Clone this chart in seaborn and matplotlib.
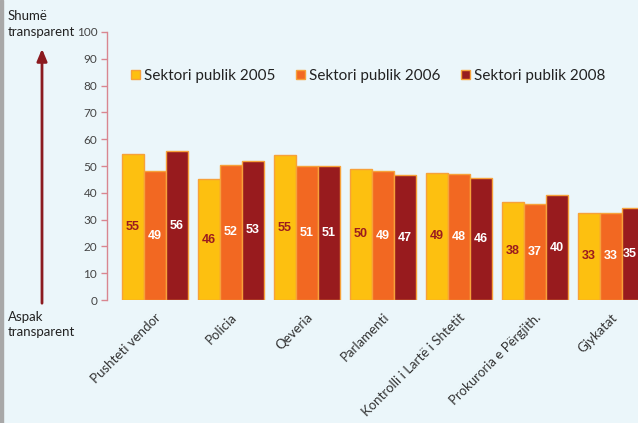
import matplotlib

matplotlib.use("Agg")
import matplotlib.pyplot as plt
import pandas as pd
import seaborn as sns
from matplotlib.patches import Rectangle

institutions = [
    "Pushteti vendor",
    "Policia",
    "Qeveria",
    "Parlamenti",
    "Kontrolli i Lartë i Shtetit",
    "Prokuroria e Përgjith.",
    "Gjykatat",
]
series = ["Sektori publik 2005", "Sektori publik 2006", "Sektori publik 2008"]

# bar heights as drawn, and the printed labels (they differ slightly in the original)
heights_2005 = [54.5, 45, 54, 49, 47.5, 36.5, 32.5]
heights_2006 = [48, 50.5, 50, 48, 47, 36, 32.5]
heights_2008 = [55.5, 52, 50, 46.5, 45.5, 39, 34.5]
labels_2005 = [55, 46, 55, 50, 49, 38, 33]
labels_2006 = [49, 52, 51, 49, 48, 37, 33]
labels_2008 = [56, 53, 51, 47, 46, 40, 35]

colors = ["#FDC010", "#F26822", "#981B1E"]
label_colors = ["#9B1B1F", "white", "white"]
BG = "#EBF6FA"
W, H = 638, 423

data = pd.DataFrame(
    {
        "institution": institutions * 3,
        "series": [s for s in series for _ in institutions],
        "value": heights_2005 + heights_2006 + heights_2008,
    }
)

sns.set_theme(style="white")
plt.rcParams["font.family"] = ["Lato", "DejaVu Sans"]

fig = plt.figure(figsize=(W / 100, H / 100), dpi=100, facecolor=BG)
ax = fig.add_axes([107 / W, 1 - 300 / H, 1 - 107 / W, (300 - 32) / H])
ax.set_facecolor(BG)

sns.barplot(
    data=data,
    x="institution",
    y="value",
    hue="series",
    order=institutions,
    hue_order=series,
    palette=colors,
    width=0.87,
    edgecolor="#F7A13A",
    linewidth=1,
    saturation=1,
    ax=ax,
)

for container, labels, color in zip(
    ax.containers, [labels_2005, labels_2006, labels_2008], label_colors
):
    ax.bar_label(
        container,
        labels=[str(v) for v in labels],
        label_type="center",
        color=color,
        fontsize=9,
        fontweight="bold",
        family=["Liberation Sans", "DejaVu Sans"],
        clip_on=True,
    )

ax.set_xlim(-0.63, 6.355)
ax.set_ylim(0, 100)
ax.set_yticks(range(0, 101, 10))
ax.tick_params(axis="y", left=True, length=4, width=1, color="#D98690",
               labelsize=8.5, labelcolor="#444444", pad=3)
ax.set_xticks(range(len(institutions)))
ax.set_xticklabels(institutions, rotation=45, ha="right", rotation_mode="anchor",
                   fontsize=9.5, color="#333333")
ax.tick_params(axis="x", bottom=False, pad=2)
for side in ["top", "right", "bottom"]:
    ax.spines[side].set_visible(False)
ax.spines["left"].set_color("#D98690")
ax.spines["left"].set_linewidth(1)
ax.set_xlabel("")
ax.set_ylabel("")

ax.legend(
    loc="upper left",
    bbox_to_anchor=(0.033, 0.885),
    ncol=3,
    frameon=False,
    fontsize=11,
    handlelength=0.6,
    handleheight=0.6,
    handletextpad=0.3,
    columnspacing=1.3,
    borderaxespad=0,
)
for t in ax.get_legend().get_texts():
    t.set_color("#222222")

# left strip and the transparency arrow
fig.add_artist(Rectangle((0, 0), 3 / W, 1, transform=fig.transFigure,
                         color="#A8A8A8", zorder=5))
ax.annotate(
    "",
    xy=(42, H - 46),
    xytext=(42, H - 306),
    xycoords="figure pixels",
    textcoords="figure pixels",
    arrowprops=dict(arrowstyle="-|>,head_length=0.6,head_width=0.25",
                    color="#8B1A1F", lw=2),
    annotation_clip=False,
)
fig.text(8 / W, 1 - 10 / H, "Shumë\ntransparent", ha="left", va="top",
         fontsize=9.5, color="#222222", linespacing=1.35)
fig.text(8 / W, 1 - 311 / H, "Aspak\ntransparent", ha="left", va="top",
         fontsize=9.5, color="#222222", linespacing=1.35)

fig.savefig("out.png", dpi=100, facecolor=BG)
